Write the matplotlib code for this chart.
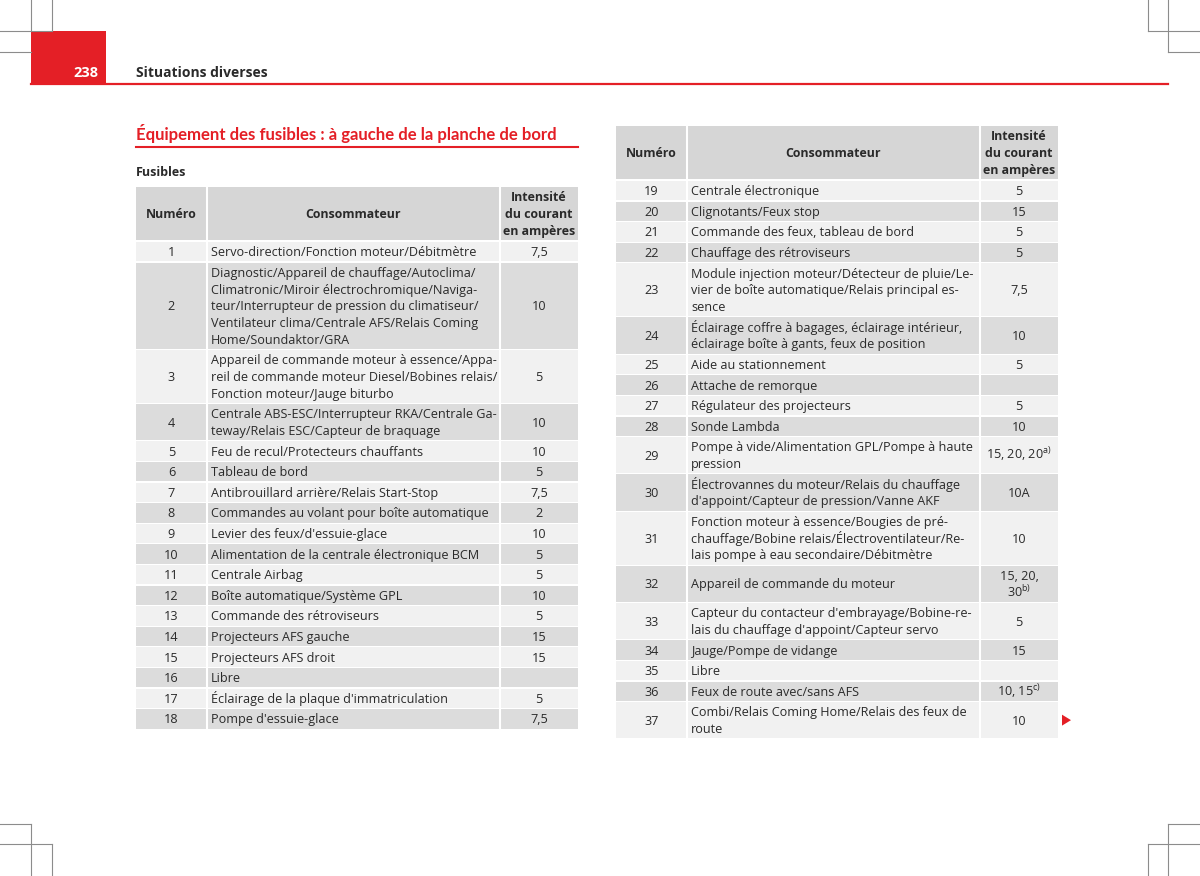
import matplotlib
matplotlib.use("Agg")
import matplotlib.pyplot as plt
from matplotlib.patches import Rectangle, Polygon

plt.rcParams['font.family'] = ['Open Sans', 'DejaVu Sans']
plt.rcParams['mathtext.fontset'] = 'custom'
plt.rcParams['mathtext.rm'] = 'Open Sans'

RED = "#e41f26"
INK = "#2a2a2a"
HEAD = "#d6d6d6"
DARK = "#dcdcdc"
LIGHT = "#f1f1f1"
GRID = "#8c8c8c"

page_number = "238"
chapter = "Situations diverses"
section_title = "Équipement des fusibles : à gauche de la planche de bord"
subtitle = "Fusibles"
col_headers = ["Numéro", "Consommateur", "Intensité\ndu courant\nen ampères"]

# fuses 1-18 (left table)
left_num = [str(n) for n in range(1, 19)]
left_cons = [
    "Servo-direction/Fonction moteur/Débitmètre",
    "Diagnostic/Appareil de chauffage/Autoclima/\nClimatronic/Miroir électrochromique/Naviga-\n"
    "teur/Interrupteur de pression du climatiseur/\nVentilateur clima/Centrale AFS/Relais Coming\n"
    "Home/Soundaktor/GRA",
    "Appareil de commande moteur à essence/Appa-\nreil de commande moteur Diesel/Bobines relais/\n"
    "Fonction moteur/Jauge biturbo",
    "Centrale ABS-ESC/Interrupteur RKA/Centrale Ga-\nteway/Relais ESC/Capteur de braquage",
    "Feu de recul/Protecteurs chauffants",
    "Tableau de bord",
    "Antibrouillard arrière/Relais Start-Stop",
    "Commandes au volant pour boîte automatique",
    "Levier des feux/d'essuie-glace",
    "Alimentation de la centrale électronique BCM",
    "Centrale Airbag",
    "Boîte automatique/Système GPL",
    "Commande des rétroviseurs",
    "Projecteurs AFS gauche",
    "Projecteurs AFS droit",
    "Libre",
    "Éclairage de la plaque d'immatriculation",
    "Pompe d'essuie-glace",
]
left_amp = ["7,5", "10", "5", "10", "10", "5", "7,5", "2", "10", "5",
            "5", "10", "5", "15", "15", "", "5", "7,5"]

# fuses 19-37 (right table)
right_num = [str(n) for n in range(19, 38)]
right_cons = [
    "Centrale électronique",
    "Clignotants/Feux stop",
    "Commande des feux, tableau de bord",
    "Chauffage des rétroviseurs",
    "Module injection moteur/Détecteur de pluie/Le-\nvier de boîte automatique/Relais principal es-\nsence",
    "Éclairage coffre à bagages, éclairage intérieur,\néclairage boîte à gants, feux de position",
    "Aide au stationnement",
    "Attache de remorque",
    "Régulateur des projecteurs",
    "Sonde Lambda",
    "Pompe à vide/Alimentation GPL/Pompe à haute\npression",
    "Électrovannes du moteur/Relais du chauffage\nd'appoint/Capteur de pression/Vanne AKF",
    "Fonction moteur à essence/Bougies de pré-\nchauffage/Bobine relais/Électroventilateur/Re-\n"
    "lais pompe à eau secondaire/Débitmètre",
    "Appareil de commande du moteur",
    "Capteur du contacteur d'embrayage/Bobine-re-\nlais du chauffage d'appoint/Capteur servo",
    "Jauge/Pompe de vidange",
    "Libre",
    "Feux de route avec/sans AFS",
    "Combi/Relais Coming Home/Relais des feux de\nroute",
]
right_amp = ["5", "15", "5", "5", "7,5", "10", "5", "", "5", "10",
             r"15, 20, 20$^{\mathrm{a)}}$", "10A", "10", "15, 20,\n30$^{\\mathrm{b)}}$", "5", "15", "",
             r"10, 15$^{\mathrm{c)}}$", "10"]

LINE = 16.7      # px per text line
PAD = 3.9        # px extra per row
HEAD_H = 53
COL_W = [71, 293, 78]
FS = 9.1
FS_HEAD = 8.9

fig = plt.figure(figsize=(12, 8.76), dpi=100)
ax = fig.add_axes([0, 0, 1, 1])
ax.set_xlim(0, 1200)
ax.set_ylim(876, 0)
ax.axis("off")


def put_lines(x, yc, text, ha, **kw):
    lines = text.split("\n")
    n = len(lines)
    for i, ln in enumerate(lines):
        y = yc + (i - (n - 1) / 2) * LINE
        ax.text(x, y + 4.6, ln, ha=ha, va="baseline", color=INK, **kw)


def draw_table(x0, y0, nums, cons, amps):
    edges = [x0, x0 + COL_W[0], x0 + COL_W[0] + COL_W[1], x0 + sum(COL_W)]
    width = sum(COL_W)
    ax.add_patch(Rectangle((x0, y0), width, HEAD_H, color=HEAD, lw=0))
    hc = y0 + HEAD_H / 2
    put_lines((edges[0] + edges[1]) / 2, hc, col_headers[0], "center", fontsize=FS_HEAD, weight="bold")
    put_lines((edges[1] + edges[2]) / 2, hc, col_headers[1], "center", fontsize=FS_HEAD, weight="bold")
    put_lines((edges[2] + edges[3]) / 2, hc, col_headers[2], "center", fontsize=FS_HEAD, weight="bold")

    y = y0 + HEAD_H + 2
    centers = []
    for num, c, a in zip(nums, cons, amps):
        n = max(len(c.split("\n")), len(a.split("\n")))
        h = n * LINE + PAD
        fc = LIGHT if int(num) % 2 else DARK
        ax.add_patch(Rectangle((x0, y), width, h - 1.2, color=fc, lw=0))
        yc = y + (h - 1.2) / 2
        put_lines((edges[0] + edges[1]) / 2, yc, num, "center", fontsize=FS)
        put_lines(edges[1] + 4, yc, c, "left", fontsize=FS)
        if a:
            put_lines((edges[2] + edges[3]) / 2, yc, a, "center", fontsize=FS)
        centers.append(yc)
        y += h
    for xe in edges[1:3]:
        ax.plot([xe, xe], [y0, y], color="white", lw=1.5)
    return centers


# crop marks
for xs, ys in [([0, 52], [31, 31]), ([52, 52], [0, 31]), ([0, 31], [52, 52]), ([31, 31], [0, 31]),
               ([1148, 1200], [31, 31]), ([1148, 1148], [0, 31]), ([1168, 1200], [52, 52]), ([1168, 1168], [0, 52]),
               ([0, 31], [824, 824]), ([31, 31], [824, 876]), ([0, 52], [844, 844]), ([52, 52], [844, 876]),
               ([1168, 1200], [824, 824]), ([1168, 1168], [824, 876]), ([1148, 1200], [844, 844]), ([1148, 1148], [844, 876])]:
    ax.plot(xs, ys, color=GRID, lw=0.8)

# page header
ax.add_patch(Rectangle((31, 31), 75, 53, color=RED, lw=0))
ax.plot([31, 1168], [84, 84], color=RED, lw=1.6)
ax.text(98, 77, page_number, color="white", fontsize=10.5, weight="bold", ha="right", va="baseline")
ax.text(136, 77, chapter, color=INK, fontsize=10, weight="bold", ha="left", va="baseline")

# section title
ax.text(136, 140, section_title, color=RED, fontsize=12.1, weight="bold", ha="left", va="baseline",
        family=["Lato", "Open Sans"])
ax.plot([136, 578], [146.5, 146.5], color=RED, lw=1.5)
ax.text(136, 176, subtitle, color=INK, fontsize=9, weight="bold", ha="left", va="baseline")

draw_table(136, 187, left_num, left_cons, left_amp)
rc = draw_table(616, 126, right_num, right_cons, right_amp)

# continuation arrow
ax.add_patch(Polygon([(1062, rc[-1] - 5.5), (1062, rc[-1] + 5.5), (1071, rc[-1])], closed=True, color=RED, lw=0))

fig.savefig("out.png", dpi=100, facecolor="white")
